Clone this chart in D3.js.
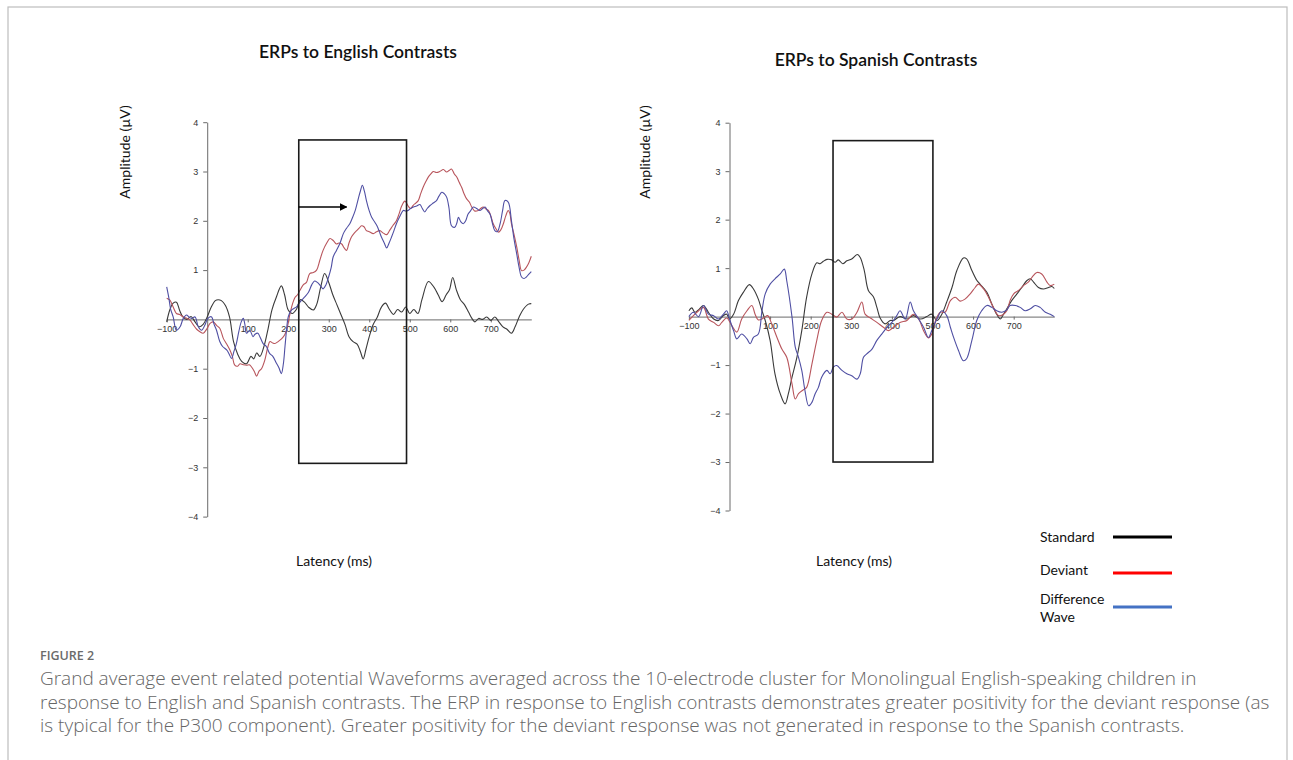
<!DOCTYPE html>
<html>
<head>
<meta charset="utf-8">
<script src="https://cdn.jsdelivr.net/npm/d3@7"></script>
<style>
  body { margin: 0; background: #fff; }
  svg { display: block; }
</style>
</head>
<body>
<script>
// ---- data: [latency ms, amplitude uV] ----
const engStandard = [[-100,-0.05],[-92,0.2],[-84,0.33],[-76,0.35],[-68,0.18],[-60,0.05],[-50,0.0],[-40,0.06],[-30,-0.05],[-20,-0.15],[-10,-0.1],[0,0.05],[10,0.25],[20,0.38],[27,0.4],[35,0.38],[45,0.28],[55,0.05],[65,-0.45],[75,-0.7],[85,-0.85],[97,-0.9],[108,-0.75],[115,-0.8],[122,-0.68],[130,-0.75],[140,-0.55],[150,-0.2],[160,0.2],[171,0.46],[183,0.68],[191,0.5],[200,0.19],[210,0.12],[220,0.2],[230,0.4],[240,0.35],[250,0.25],[262,0.19],[270,0.3],[280,0.65],[290,0.93],[300,0.75],[310,0.5],[320,0.3],[330,0.1],[340,-0.1],[350,-0.35],[360,-0.45],[370,-0.5],[378,-0.65],[385,-0.8],[392,-0.6],[400,-0.35],[410,-0.1],[420,0.05],[430,0.25],[440,0.33],[450,0.2],[460,0.1],[470,0.2],[480,0.15],[490,0.25],[500,0.12],[510,0.2],[520,0.12],[530,0.4],[546,0.77],[560,0.65],[570,0.5],[580,0.36],[590,0.5],[598,0.6],[606,0.85],[615,0.6],[625,0.4],[635,0.3],[645,0.15],[655,0.0],[661,-0.05],[670,0.02],[680,0.0],[690,0.05],[700,-0.02],[710,0.05],[720,-0.05],[730,-0.15],[740,-0.2],[751,-0.28],[760,-0.15],[770,0.05],[780,0.2],[793,0.31],[800,0.32]];
const engDeviant = [[-100,0.43],[-92,0.39],[-84,0.25],[-76,0.12],[-68,0.1],[-59,0.05],[-50,0.02],[-43,-0.01],[-35,-0.1],[-26,-0.2],[-18,-0.25],[-10,-0.28],[0,-0.18],[7,-0.08],[15,-0.05],[23,-0.12],[31,-0.18],[40,-0.39],[48,-0.5],[56,-0.62],[62,-0.75],[68,-0.93],[75,-0.95],[81,-0.9],[89,-0.92],[97,-0.93],[104,-0.92],[109,-0.96],[116,-1.05],[122,-1.15],[128,-1.05],[134,-1.0],[142,-0.83],[150,-0.55],[155,-0.45],[162,-0.48],[167,-0.49],[175,-0.45],[184,-0.39],[192,-0.3],[198,-0.15],[204,0.1],[210,0.3],[217,0.45],[223,0.5],[229,0.59],[237,0.7],[245,0.75],[253,0.93],[262,0.95],[270,1.0],[278,1.2],[286,1.4],[295,1.55],[303,1.64],[311,1.6],[319,1.53],[325,1.55],[332,1.53],[338,1.45],[344,1.4],[350,1.55],[356,1.67],[363,1.75],[369,1.8],[375,1.85],[381,1.9],[387,1.88],[393,1.8],[400,1.78],[410,1.74],[418,1.78],[426,1.8],[435,1.75],[443,1.72],[450,1.8],[458,1.9],[467,2.0],[474,2.15],[480,2.3],[488,2.4],[496,2.3],[502,2.25],[509,2.32],[515,2.36],[521,2.41],[527,2.55],[533,2.68],[540,2.8],[546,2.89],[552,2.95],[558,3.0],[566,2.98],[574,3.0],[583,3.04],[591,2.99],[597,3.02],[603,3.05],[610,2.95],[616,2.89],[622,2.78],[628,2.68],[634,2.55],[640,2.45],[647,2.38],[653,2.28],[660,2.2],[669,2.21],[675,2.25],[681,2.28],[688,2.24],[694,2.21],[700,2.1],[706,1.94],[712,1.85],[719,1.77],[725,1.82],[731,1.94],[737,2.1],[743,2.21],[747,2.15],[751,1.94],[758,1.7],[764,1.47],[770,1.2],[776,0.99],[782,1.0],[788,1.06],[794,1.15],[800,1.28]];
const engDifference = [[-100,0.66],[-95,0.45],[-90,0.2],[-84,0.05],[-76,-0.22],[-67,-0.15],[-59,0.02],[-51,0.09],[-45,0.05],[-39,0.02],[-30,0.05],[-22,-0.15],[-14,-0.22],[-6,-0.12],[0,0.0],[6,0.05],[11,0.05],[17,-0.1],[23,-0.22],[31,-0.45],[38,-0.55],[48,-0.62],[54,-0.7],[60,-0.79],[66,-0.65],[72,-0.49],[78,-0.25],[84,-0.05],[89,0.02],[93,-0.1],[97,-0.28],[105,-0.22],[113,-0.35],[118,-0.3],[125,-0.28],[130,-0.35],[138,-0.49],[146,-0.55],[154,-0.69],[162,-0.75],[171,-0.89],[177,-0.98],[183,-1.1],[188,-0.9],[192,-0.55],[196,-0.2],[200,0.05],[208,0.19],[214,0.22],[221,0.26],[227,0.33],[233,0.39],[240,0.45],[250,0.55],[258,0.7],[265,0.78],[272,0.75],[280,0.68],[286,0.62],[293,0.7],[300,0.87],[306,1.05],[311,1.27],[319,1.4],[328,1.55],[336,1.74],[344,1.85],[352,1.94],[358,2.05],[365,2.2],[373,2.45],[378,2.6],[383,2.72],[388,2.6],[393,2.41],[400,2.2],[406,2.07],[413,1.98],[419,1.9],[425,1.78],[430,1.67],[437,1.55],[443,1.45],[449,1.55],[455,1.67],[461,1.8],[467,1.94],[475,2.08],[484,2.21],[490,2.2],[496,2.21],[502,2.25],[509,2.28],[517,2.3],[525,2.33],[531,2.25],[537,2.18],[543,2.25],[550,2.31],[558,2.36],[566,2.41],[572,2.5],[579,2.58],[585,2.55],[591,2.48],[597,2.25],[603,1.9],[611,1.87],[616,1.95],[620,2.07],[626,1.98],[632,1.94],[638,2.0],[644,2.14],[650,2.2],[657,2.28],[665,2.25],[673,2.21],[680,2.25],[686,2.28],[692,2.2],[698,2.14],[704,1.95],[710,1.8],[716,1.78],[723,1.94],[729,2.2],[735,2.41],[743,2.38],[751,2.0],[757,1.65],[764,1.33],[770,1.05],[776,0.86],[782,0.83],[788,0.86],[794,0.92],[800,0.97]];

const spaStandard = [[-100,0.12],[-93,0.18],[-85,0.09],[-75,0.15],[-64,0.23],[-52,0.09],[-39,-0.05],[-27,-0.08],[-15,0.02],[-7,0.05],[0,-0.05],[10,0.05],[22,0.33],[34,0.5],[49,0.66],[59,0.57],[71,0.36],[80,0.12],[88,-0.08],[100,-0.49],[112,-1.18],[125,-1.59],[137,-1.8],[145,-1.59],[154,-1.25],[166,-0.84],[178,-0.29],[190,0.4],[203,0.88],[215,1.11],[223,1.09],[231,1.14],[240,1.18],[252,1.17],[260,1.12],[268,1.17],[279,1.09],[289,1.15],[301,1.19],[315,1.28],[322,1.22],[332,0.95],[342,0.54],[355,0.4],[363,0.19],[371,-0.03],[383,-0.15],[396,-0.08],[404,-0.08],[420,0.0],[437,-0.05],[453,0.02],[470,-0.05],[486,0.0],[498,0.05],[511,-0.08],[523,0.05],[535,0.3],[548,0.6],[560,0.95],[576,1.21],[584,1.19],[597,0.95],[609,0.75],[617,0.67],[634,0.5],[646,0.26],[658,0.05],[667,-0.05],[675,0.05],[683,0.16],[695,0.33],[708,0.47],[720,0.6],[732,0.74],[741,0.78],[749,0.71],[761,0.6],[773,0.57],[786,0.6],[794,0.62],[800,0.58]];
const spaDeviant = [[-100,-0.08],[-89,0.02],[-76,0.12],[-64,0.19],[-52,-0.05],[-39,-0.12],[-27,-0.19],[-19,-0.12],[-7,-0.03],[6,-0.19],[18,-0.32],[30,-0.05],[43,0.12],[55,0.23],[63,0.05],[71,-0.07],[84,-0.03],[94,0.02],[104,-0.15],[117,-0.43],[129,-0.67],[141,-0.84],[154,-1.39],[162,-1.7],[170,-1.59],[182,-1.51],[190,-1.46],[203,-0.98],[215,-0.49],[227,-0.08],[240,0.09],[252,0.05],[264,-0.01],[277,0.09],[289,-0.05],[301,-0.05],[314,0.09],[326,0.3],[334,0.05],[347,-0.03],[363,-0.12],[379,-0.22],[392,-0.29],[404,-0.22],[420,-0.12],[437,-0.08],[453,0.05],[466,-0.05],[478,-0.29],[490,-0.44],[498,-0.36],[509,-0.05],[519,0.09],[531,0.09],[544,0.33],[556,0.4],[568,0.32],[580,0.36],[593,0.47],[605,0.6],[613,0.67],[626,0.57],[638,0.4],[650,0.19],[663,0.02],[675,0.05],[683,0.12],[691,0.33],[700,0.47],[712,0.54],[724,0.64],[736,0.71],[745,0.81],[757,0.91],[769,0.88],[782,0.71],[790,0.64],[800,0.67]];
const spaDifference = [[-100,0.0],[-89,0.09],[-76,0.0],[-64,0.23],[-52,0.05],[-39,0.02],[-27,-0.05],[-15,0.05],[-7,0.12],[0,-0.05],[10,-0.29],[18,-0.46],[30,-0.36],[43,-0.46],[51,-0.56],[59,-0.43],[71,-0.36],[80,0.12],[88,0.47],[100,0.67],[112,0.78],[125,0.88],[135,0.98],[141,0.74],[154,-0.01],[162,-0.63],[170,-0.84],[178,-1.11],[186,-1.53],[195,-1.84],[203,-1.77],[211,-1.59],[219,-1.46],[227,-1.25],[240,-1.11],[248,-1.18],[256,-1.04],[264,-1.01],[277,-1.11],[289,-1.18],[301,-1.22],[314,-1.29],[322,-1.18],[330,-0.84],[338,-0.77],[351,-0.67],[363,-0.49],[375,-0.36],[388,-0.22],[400,-0.12],[412,0.02],[420,0.12],[433,-0.05],[445,0.3],[453,0.12],[466,-0.05],[478,-0.22],[490,-0.43],[498,-0.29],[511,-0.05],[523,0.12],[535,0.02],[544,-0.22],[552,-0.43],[564,-0.7],[576,-0.91],[584,-0.87],[597,-0.49],[609,-0.08],[621,0.12],[634,0.23],[646,0.19],[658,0.12],[671,0.09],[683,0.14],[691,0.23],[704,0.23],[716,0.19],[728,0.12],[741,0.16],[753,0.23],[765,0.19],[778,0.09],[790,0.05],[800,0.0]];

const xTickLabels = [-100, 100, 200, 300, 400, 500, 600, 700];
const yTickLabels = [-4, -3, -2, -1, 1, 2, 3, 4];
// analysis windows [start ms, end ms, low uV, high uV]
const engWindow = [226, 492, -2.92, 3.64];
const spaWindow = [255, 501, -3.0, 3.63];
const engArrow = [226, 344, 2.28];

const legendLabels = ["Standard", "Deviant", "Difference Wave"];
const legendColors = ["#000000", "#ff0000", "#4472c4"];
const lineColors = {standard: "#3a3a3a", deviant: "#b8555c", difference: "#4f4fa3"};

const captionTitle = "FIGURE 2";
const captionLines = [
  "Grand average event related potential Waveforms averaged across the 10-electrode cluster for Monolingual English-speaking children in",
  "response to English and Spanish contrasts. The ERP in response to English contrasts demonstrates greater positivity for the deviant response (as",
  "is typical for the P300 component). Greater positivity for the deviant response was not generated in response to the Spanish contrasts."
];

const W = 1293, H = 760;
const titleFont = "Lato, 'Open Sans', sans-serif";

let svg = d3.select('body').append('svg')
    .attr('width', W)
    .attr('height', H);

// outer frame
svg.append('rect')
    .attr('x', 8).attr('y', 7)
    .attr('width', 1279).attr('height', 800)
    .attr('fill', 'none')
    .attr('stroke', '#bdbdbd')
    .attr('stroke-width', 1.2);

svg.append('defs').append('marker')
    .attr('id', 'arrowhead')
    .attr('viewBox', '0 0 10 10')
    .attr('refX', 9).attr('refY', 5)
    .attr('markerWidth', 6).attr('markerHeight', 6)
    .attr('orient', 'auto')
  .append('path')
    .attr('d', 'M0,0 L10,5 L0,10 Z')
    .attr('fill', '#000');

function drawPanel(opt) {
    let x = d3.scaleLinear().domain([-100, 800]).range(opt.xRange);
    let y = d3.scaleLinear().domain([-4, 4]).range(opt.yRange);
    let g = svg.append('g');

    // title + axis titles
    g.append('text')
        .attr('x', opt.titleX).attr('y', opt.titleY)
        .attr('text-anchor', 'middle')
        .style('font-family', titleFont)
        .style('font-size', '17.5px')
        .style('font-weight', 600)
        .attr('fill', '#111')
        .text(opt.title);

    g.append('text')
        .attr('transform', `translate(${opt.yLabelX},${opt.yLabelY}) rotate(-90)`)
        .attr('text-anchor', 'middle')
        .style('font-family', titleFont)
        .style('font-size', '14px')
        .attr('fill', '#111')
        .text('Amplitude (µV)');

    g.append('text')
        .attr('x', opt.xLabelX).attr('y', 566)
        .attr('text-anchor', 'middle')
        .style('font-family', titleFont)
        .style('font-size', '14px')
        .attr('fill', '#111')
        .text('Latency (ms)');

    // y axis crossing at 0 ms
    let yAxis = g.append('g')
        .attr('transform', `translate(${x(0)},0)`)
        .call(d3.axisLeft(y).tickValues(yTickLabels).tickSize(4).tickSizeOuter(0).tickPadding(5));

    // x axis along 0 uV
    let xAxis = g.append('g')
        .attr('transform', `translate(0,${y(0)})`)
        .call(d3.axisBottom(x).tickValues(xTickLabels).tickSize(3).tickSizeOuter(0).tickPadding(3));

    [yAxis, xAxis].forEach(a => {
        a.select('.domain').attr('stroke', '#6a6a6a').attr('stroke-width', 1);
        a.selectAll('.tick line').attr('stroke', '#6a6a6a');
        a.selectAll('.tick text')
            .style('font-family', "'Liberation Sans', Arial, sans-serif")
            .style('font-size', '9px')
            .attr('fill', '#333');
    });

    // waveforms
    let line = d3.line()
        .x(d => x(d[0]))
        .y(d => y(d[1]))
        .curve(d3.curveCatmullRom.alpha(0.5));

    opt.series.forEach(s => {
        g.append('path')
            .datum(s.data)
            .attr('d', line)
            .attr('fill', 'none')
            .attr('stroke', s.color)
            .attr('stroke-width', 1.1)
            .attr('stroke-linejoin', 'round');
    });

    // analysis window
    let w = opt.window;
    g.append('rect')
        .attr('x', x(w[0])).attr('y', y(w[3]))
        .attr('width', x(w[1]) - x(w[0]))
        .attr('height', y(w[2]) - y(w[3]))
        .attr('fill', 'none')
        .attr('stroke', '#1a1a1a')
        .attr('stroke-width', 1.6);

    if (opt.arrow) {
        let a = opt.arrow;
        g.append('line')
            .attr('x1', x(a[0])).attr('x2', x(a[1]))
            .attr('y1', y(a[2])).attr('y2', y(a[2]))
            .attr('stroke', '#000')
            .attr('stroke-width', 1.3)
            .attr('marker-end', 'url(#arrowhead)');
    }
}

drawPanel({
    title: 'ERPs to English Contrasts', titleX: 358, titleY: 58,
    yLabelX: 130, yLabelY: 152, xLabelX: 334,
    xRange: [166.7, 531.3], yRange: [516.6, 122.2],
    window: engWindow, arrow: engArrow,
    series: [
        {data: engStandard, color: lineColors.standard},
        {data: engDeviant, color: lineColors.deviant},
        {data: engDifference, color: lineColors.difference}
    ]
});

drawPanel({
    title: 'ERPs to Spanish Contrasts', titleX: 876, titleY: 66,
    yLabelX: 650, yLabelY: 152, xLabelX: 854,
    xRange: [688.9, 1054.3], yRange: [510.5, 122.7],
    window: spaWindow, arrow: null,
    series: [
        {data: spaStandard, color: lineColors.standard},
        {data: spaDeviant, color: lineColors.deviant},
        {data: spaDifference, color: lineColors.difference}
    ]
});

// legend
let legend = svg.append('g').attr('transform', 'translate(1040,0)');
let legendY = [537, 570, 599];
legendLabels.forEach((lab, i) => {
    let words = i === 2 ? ['Difference', 'Wave'] : [lab];
    let t = legend.append('text')
        .attr('x', 0).attr('y', legendY[i] + 5)
        .style('font-family', titleFont)
        .style('font-size', '14px')
        .attr('fill', '#111');
    words.forEach((w, j) => {
        t.append('tspan').attr('x', 0).attr('dy', j === 0 ? 0 : 18).text(w);
    });
    let ly = i === 2 ? legendY[i] + 8 : legendY[i] + (i === 1 ? 3 : 0);
    legend.append('line')
        .attr('x1', 73).attr('x2', 132)
        .attr('y1', ly).attr('y2', ly)
        .attr('stroke', legendColors[i])
        .attr('stroke-width', 3);
});

// caption
svg.append('text')
    .attr('x', 40).attr('y', 660)
    .style('font-family', "'Open Sans', sans-serif")
    .style('font-size', '12.5px')
    .style('font-weight', 600)
    .attr('fill', '#6b6b6b')
    .text(captionTitle);

let cap = svg.append('g');
captionLines.forEach((l, i) => {
    cap.append('text')
        .attr('class', 'cap-line')
        .attr('x', 40).attr('y', 685 + i * 23.5)
        .style('font-family', "'Open Sans', sans-serif")
        .style('font-size', '16px')
        .style('font-weight', 300)
        .attr('fill', '#666')
        .text(l);
});
// fit the first caption line to its width in the figure
let first = cap.select('.cap-line').node();
let fs = 16 * 1157 / first.getComputedTextLength();
cap.selectAll('.cap-line').style('font-size', fs + 'px');
</script>
</body>
</html>
